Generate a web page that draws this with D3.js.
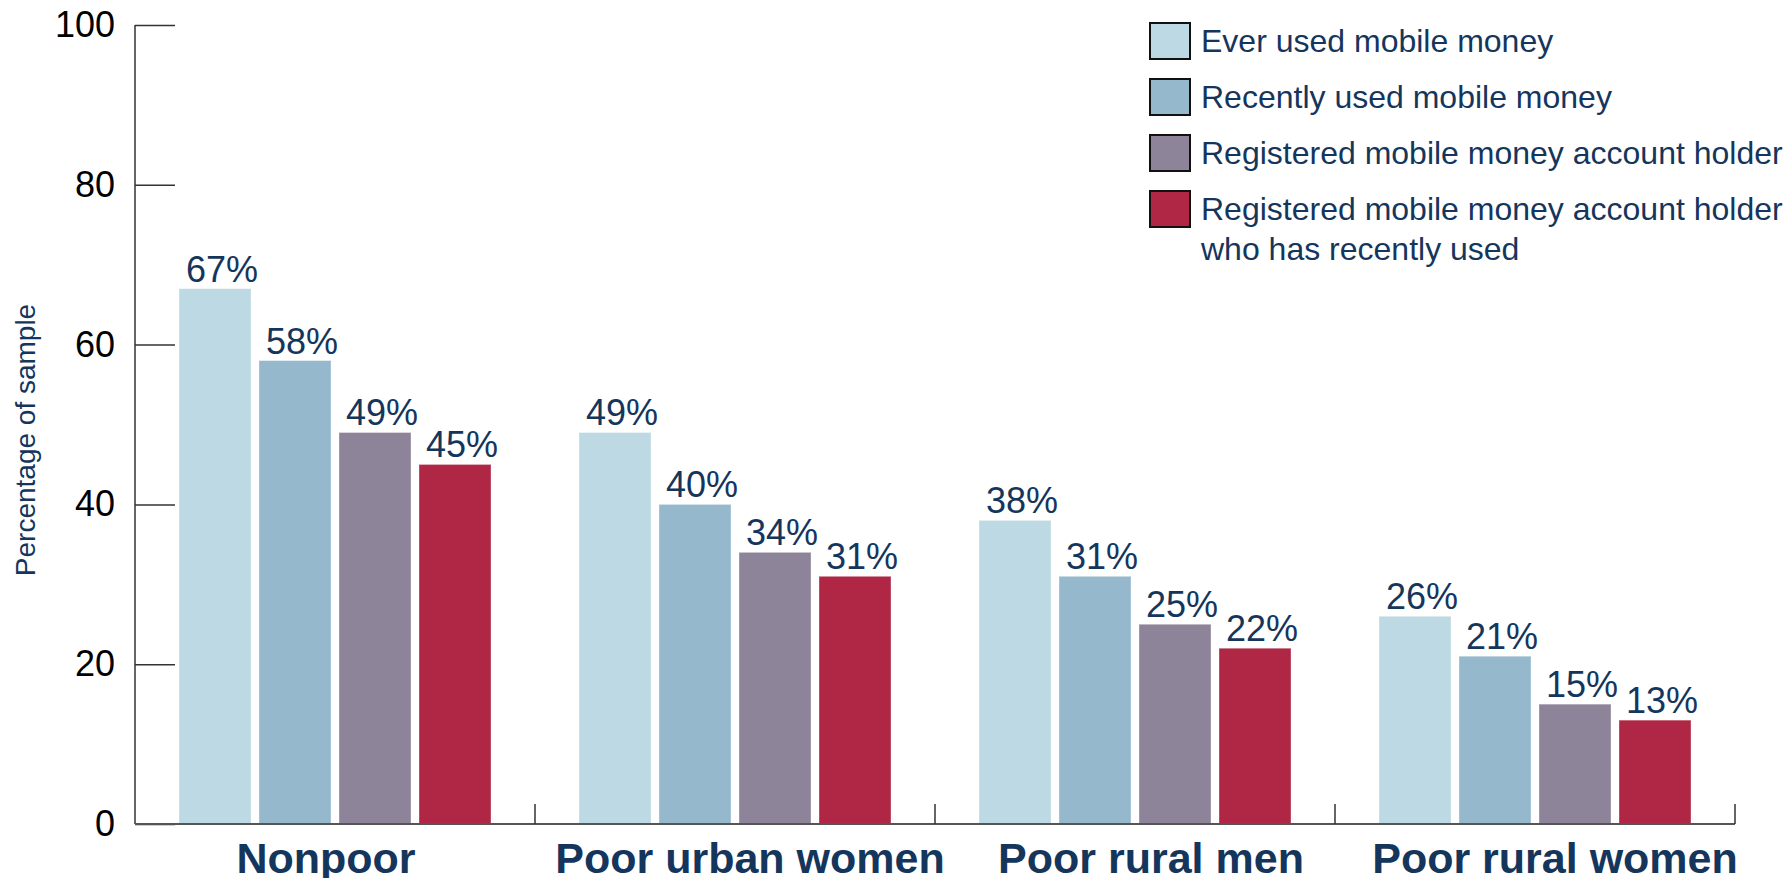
<!DOCTYPE html>
<html lang="en">
<head>
<meta charset="utf-8">
<title>Mobile money use</title>
<script src="https://d3js.org/d3.v7.min.js"></script>
<style>
  body { margin: 0; background: #fff; }
  svg { display: block; font-family: "Liberation Sans", Arial, sans-serif; }
</style>
</head>
<body>
<svg width="1785" height="878"></svg>
<script>
// data
var groups = ["Nonpoor", "Poor urban women", "Poor rural men", "Poor rural women"]
var seriesNames = ["Ever used mobile money", "Recently used mobile money",
  "Registered mobile money account holder",
  "Registered mobile money account holder who has recently used"]
var everUsed = [67, 49, 38, 26]
var recentlyUsed = [58, 40, 31, 21]
var registered = [49, 34, 25, 15]
var registeredRecent = [45, 31, 22, 13]
var yTicks = [0, 20, 40, 60, 80, 100]

var colors = ["#bdd9e3", "#95b8cc", "#8e8499", "#af2744"]
var navy = "#15365c"

var allSeries = [everUsed, recentlyUsed, registered, registeredRecent]
var rows = []
groups.forEach(function (g, gi) {
  allSeries.forEach(function (s, si) {
    rows.push({ group: g, series: seriesNames[si], idx: si, value: s[gi] })
  })
})

var svg = d3.select("svg")
// plot edges (note: "top" is taken by window.top, so use other names)
var plotLeft = 135, plotRight = 1735, plotTop = 25, plotBottom = 824

var x0 = d3.scaleBand().domain(groups).range([plotLeft, plotRight])
var x1 = d3.scaleBand().domain(seriesNames).range([0, x0.bandwidth()])
  .paddingInner(0.1).paddingOuter(0.55)
var y = d3.scaleLinear().domain([0, 100]).range([plotBottom, plotTop])

// bars
svg.append("g").selectAll("rect")
  .data(rows)
  .enter()
  .append("rect")
  .attr("x", function (d) { return x0(d.group) + x1(d.series) })
  .attr("y", function (d) { return y(d.value) })
  .attr("width", x1.bandwidth())
  .attr("height", function (d) { return y(0) - y(d.value) })
  .attr("fill", function (d) { return colors[d.idx] })
  .attr("stroke", "#ffffff")
  .attr("stroke-opacity", 0.35)
  .attr("stroke-width", 1)

// value labels
svg.append("g").selectAll("text")
  .data(rows)
  .enter()
  .append("text")
  .attr("x", function (d) { return x0(d.group) + x1(d.series) + x1.bandwidth() / 2 + 7 })
  .attr("y", function (d) { return y(d.value) - 7 })
  .attr("text-anchor", "middle")
  .attr("fill", navy)
  .style("font-size", "36px")
  .text(function (d) { return d.value + "%" })

// y axis: ticks point inwards
var yAxis = svg.append("g")
  .attr("transform", "translate(" + plotLeft + ",0)")
  .call(d3.axisRight(y).tickValues(yTicks).tickSize(40).tickPadding(0))
yAxis.select(".domain").attr("d", "M0," + plotTop + "V" + plotBottom).attr("stroke", "#333").attr("stroke-width", 1.5)
yAxis.selectAll(".tick line").attr("stroke", "#333").attr("stroke-width", 1.5)
yAxis.selectAll(".tick text")
  .attr("x", -20)
  .attr("text-anchor", "end")
  .attr("fill", "#000")
  .style("font-size", "36px")
  .style("font-family", "'Liberation Sans', Arial, sans-serif")

// x axis with separator ticks between the groups
var xAxis = svg.append("g")
  .attr("transform", "translate(0," + plotBottom + ")")
xAxis.append("line")
  .attr("x1", plotLeft).attr("x2", plotRight)
  .attr("stroke", "#555").attr("stroke-width", 2)
xAxis.selectAll(".sep")
  .data(groups)
  .enter()
  .append("line")
  .attr("class", "sep")
  .attr("x1", function (g) { return x0(g) + x0.bandwidth() })
  .attr("x2", function (g) { return x0(g) + x0.bandwidth() })
  .attr("y1", 0).attr("y2", -20)
  .attr("stroke", "#333").attr("stroke-width", 1.5)
// category labels sit a little off the group centres in the original
var catShift = [-9, 15, 16, 20]
xAxis.selectAll(".cat")
  .data(groups)
  .enter()
  .append("text")
  .attr("class", "cat")
  .attr("x", function (g, i) { return x0(g) + x0.bandwidth() / 2 + catShift[i] })
  .attr("y", 49)
  .attr("text-anchor", "middle")
  .attr("fill", navy)
  .style("font-size", "43px")
  .style("font-weight", "bold")
  .text(function (g) { return g })

// y axis title
svg.append("text")
  .attr("transform", "translate(35,440) rotate(-90)")
  .attr("text-anchor", "middle")
  .attr("fill", navy)
  .style("font-size", "28px")
  .text("Percentage of sample")

// legend
var legend = svg.append("g").attr("transform", "translate(1150,23)")
var item = legend.selectAll("g")
  .data(seriesNames)
  .enter()
  .append("g")
  .attr("transform", function (d, i) { return "translate(0," + i * 56 + ")" })
item.append("rect")
  .attr("width", 40).attr("height", 36)
  .attr("fill", function (d, i) { return colors[i] })
  .attr("stroke", "#111").attr("stroke-width", 2)
var lines = [["Ever used mobile money"], ["Recently used mobile money"],
  ["Registered mobile money account holder"],
  ["Registered mobile money account holder", "who has recently used"]]
item.append("text")
  .attr("x", 51)
  .attr("y", 29)
  .attr("fill", navy)
  .style("font-size", "32px")
  .selectAll("tspan")
  .data(function (d, i) { return lines[i] })
  .enter()
  .append("tspan")
  .attr("x", 51)
  .attr("dy", function (d, j) { return j === 0 ? 0 : 40 })
  .text(function (d) { return d })
</script>
</body>
</html>
